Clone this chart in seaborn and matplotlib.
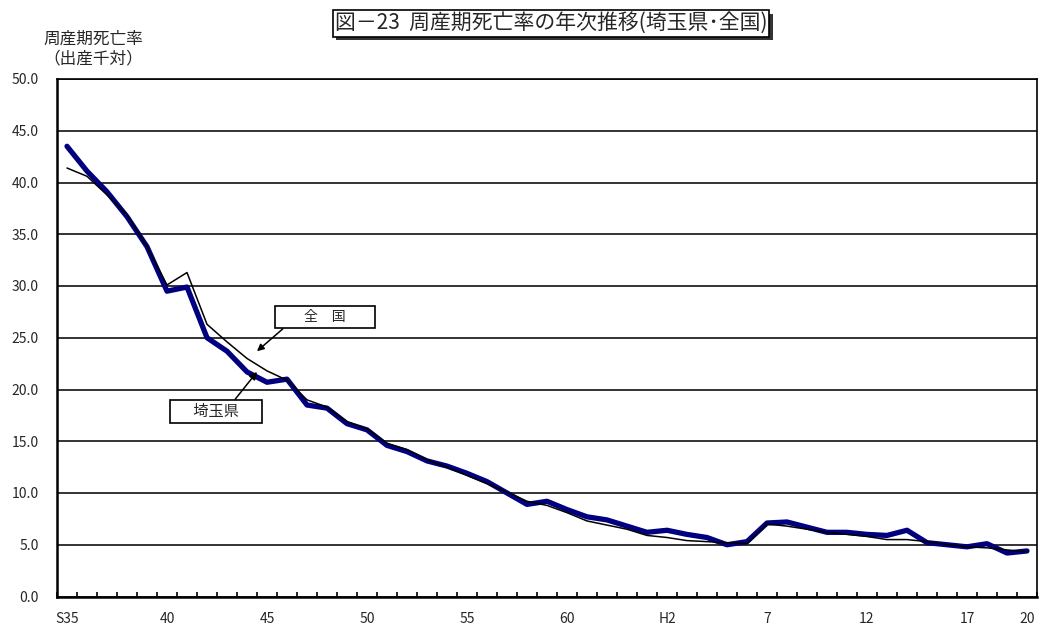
import matplotlib
matplotlib.use("Agg")
import matplotlib.pyplot as plt
import matplotlib.patheffects as pe
import numpy as np
import pandas as pd
import seaborn as sns

# ==========================================
# DATA  (S35 = 1960 ... H20 = 2008)
# ==========================================
YEARS = list(range(1960, 2009))

SAITAMA = [
    43.5, 41.1, 39.1, 36.7, 33.8, 29.5, 29.9, 25.0, 23.7, 21.7,
    20.7, 21.0, 18.5, 18.2, 16.7, 16.1, 14.6, 14.0, 13.1, 12.6,
    11.9, 11.1, 10.0, 8.9, 9.2, 8.4, 7.7, 7.4, 6.8, 6.2,
    6.4, 6.0, 5.7, 5.0, 5.3, 7.1, 7.2, 6.7, 6.2, 6.2,
    6.0, 5.9, 6.4, 5.2, 5.0, 4.8, 5.1, 4.2, 4.4,
]
NATIONAL = [
    41.4, 40.6, 38.8, 36.9, 33.8, 30.1, 31.3, 26.3, 24.6, 23.0,
    21.8, 20.9, 19.0, 18.3, 16.9, 16.2, 14.8, 14.2, 13.2, 12.5,
    11.7, 10.9, 10.1, 9.2, 8.8, 8.1, 7.3, 6.9, 6.5, 5.9,
    5.7, 5.4, 5.3, 5.2, 5.1, 7.0, 6.8, 6.5, 6.2, 6.0,
    5.8, 5.5, 5.5, 5.3, 5.0, 4.8, 4.7, 4.5, 4.3,
]
SERIES = ["埼玉県", "全国"]
TICK_POS = [0, 5, 10, 15, 20, 25, 30, 35, 40, 45, 48]
TICK_LABELS = ["S35", "40", "45", "50", "55", "60", "H2", "7", "12", "17", "20"]
Y_TICKS = [0, 5, 10, 15, 20, 25, 30, 35, 40, 45, 50]

TITLE = "図－23  周産期死亡率の年次推移(埼玉県･全国)"
FONT = ["Noto Sans CJK JP", "DejaVu Sans"]


def build_frame() -> pd.DataFrame:
    idx = np.arange(len(YEARS))
    return pd.concat([
        pd.DataFrame({"idx": idx, "rate": SAITAMA, "series": SERIES[0]}),
        pd.DataFrame({"idx": idx, "rate": NATIONAL, "series": SERIES[1]}),
    ], ignore_index=True)


def main():
    sns.set_style("white")
    plt.rcParams["font.family"] = FONT

    df = build_frame()

    fig = plt.figure(figsize=(10.39, 6.29), dpi=100)
    ax = fig.add_axes([57 / 1039, 1 - 596.5 / 629, 980 / 1039, 517.5 / 629])

    # ── lines ────────────────────────────────────────────────────────────────
    sns.lineplot(
        data=df, x="idx", y="rate", hue="series", size="series",
        hue_order=SERIES, size_order=SERIES,
        palette={"埼玉県": "#000080", "全国": "black"},
        sizes={"埼玉県": 3.8, "全国": 1.1},
        legend=False, ax=ax,
    )

    # ── axes ─────────────────────────────────────────────────────────────────
    ax.set_xlim(-0.5, len(YEARS) - 0.5)
    ax.set_ylim(0, 50)
    ax.set_yticks(Y_TICKS)
    ax.set_yticklabels([f"{v:.1f}" for v in Y_TICKS])
    ax.set_xticks(TICK_POS)
    ax.set_xticklabels(TICK_LABELS)
    ax.set_xticks(np.arange(-0.5, len(YEARS), 1.0), minor=True)
    ax.set_xlabel("")
    ax.set_ylabel("")

    ax.yaxis.grid(True, color="#111111", linewidth=1.2)
    ax.set_axisbelow(True)
    ax.tick_params(axis="y", length=0, pad=13, labelsize=10)
    ax.tick_params(axis="x", which="major", length=0, pad=11, labelsize=10)
    ax.tick_params(axis="x", which="minor", direction="in", length=3.5,
                   width=1.2, color="black", bottom=True)

    for side in ["left", "bottom"]:
        ax.spines[side].set_linewidth(1.8)
        ax.spines[side].set_color("black")
    for side in ["right", "top"]:
        ax.spines[side].set_linewidth(1.2)
        ax.spines[side].set_color("black")

    # ── callouts ─────────────────────────────────────────────────────────────
    ax.annotate(
        "        全　国        ", xy=(9.5, 23.7), xytext=(12.9, 27.0),
        ha="center", va="center", fontsize=10,
        bbox=dict(boxstyle="square,pad=0.3", fc="white", ec="black", lw=1.2),
        arrowprops=dict(arrowstyle="-|>", color="black", lw=1.1,
                        relpos=(0.1, 0.0), shrinkA=0, shrinkB=0),
    )
    ax.annotate(
        "      埼玉県      ", xy=(9.5, 21.7), xytext=(7.45, 17.9),
        ha="center", va="center", fontsize=11,
        bbox=dict(boxstyle="square,pad=0.2", fc="white", ec="black", lw=1.2),
        arrowprops=dict(arrowstyle="-|>", color="black", lw=1.1,
                        relpos=(0.69, 1.0), shrinkA=0, shrinkB=0),
    )

    # ── title with shadow ────────────────────────────────────────────────────
    title = fig.text(551 / 1039, 1 - 23.5 / 629, TITLE, ha="center", va="center",
                     fontsize=15,
                     bbox=dict(boxstyle="square,pad=0.1", fc="white", ec="black", lw=1.2))
    title.get_bbox_patch().set_path_effects([
        pe.SimplePatchShadow(offset=(2.5, -2.5), shadow_rgbFace="#333333", alpha=1.0),
        pe.Normal(),
    ])

    # ── y-axis caption ───────────────────────────────────────────────────────
    fig.text(43 / 1039, 1 - 49 / 629, "周産期死亡率\n（出産千対）",
             ha="left", va="center", fontsize=12, linespacing=1.15)

    fig.savefig("out.png", dpi=100)
    plt.close(fig)


if __name__ == "__main__":
    main()
